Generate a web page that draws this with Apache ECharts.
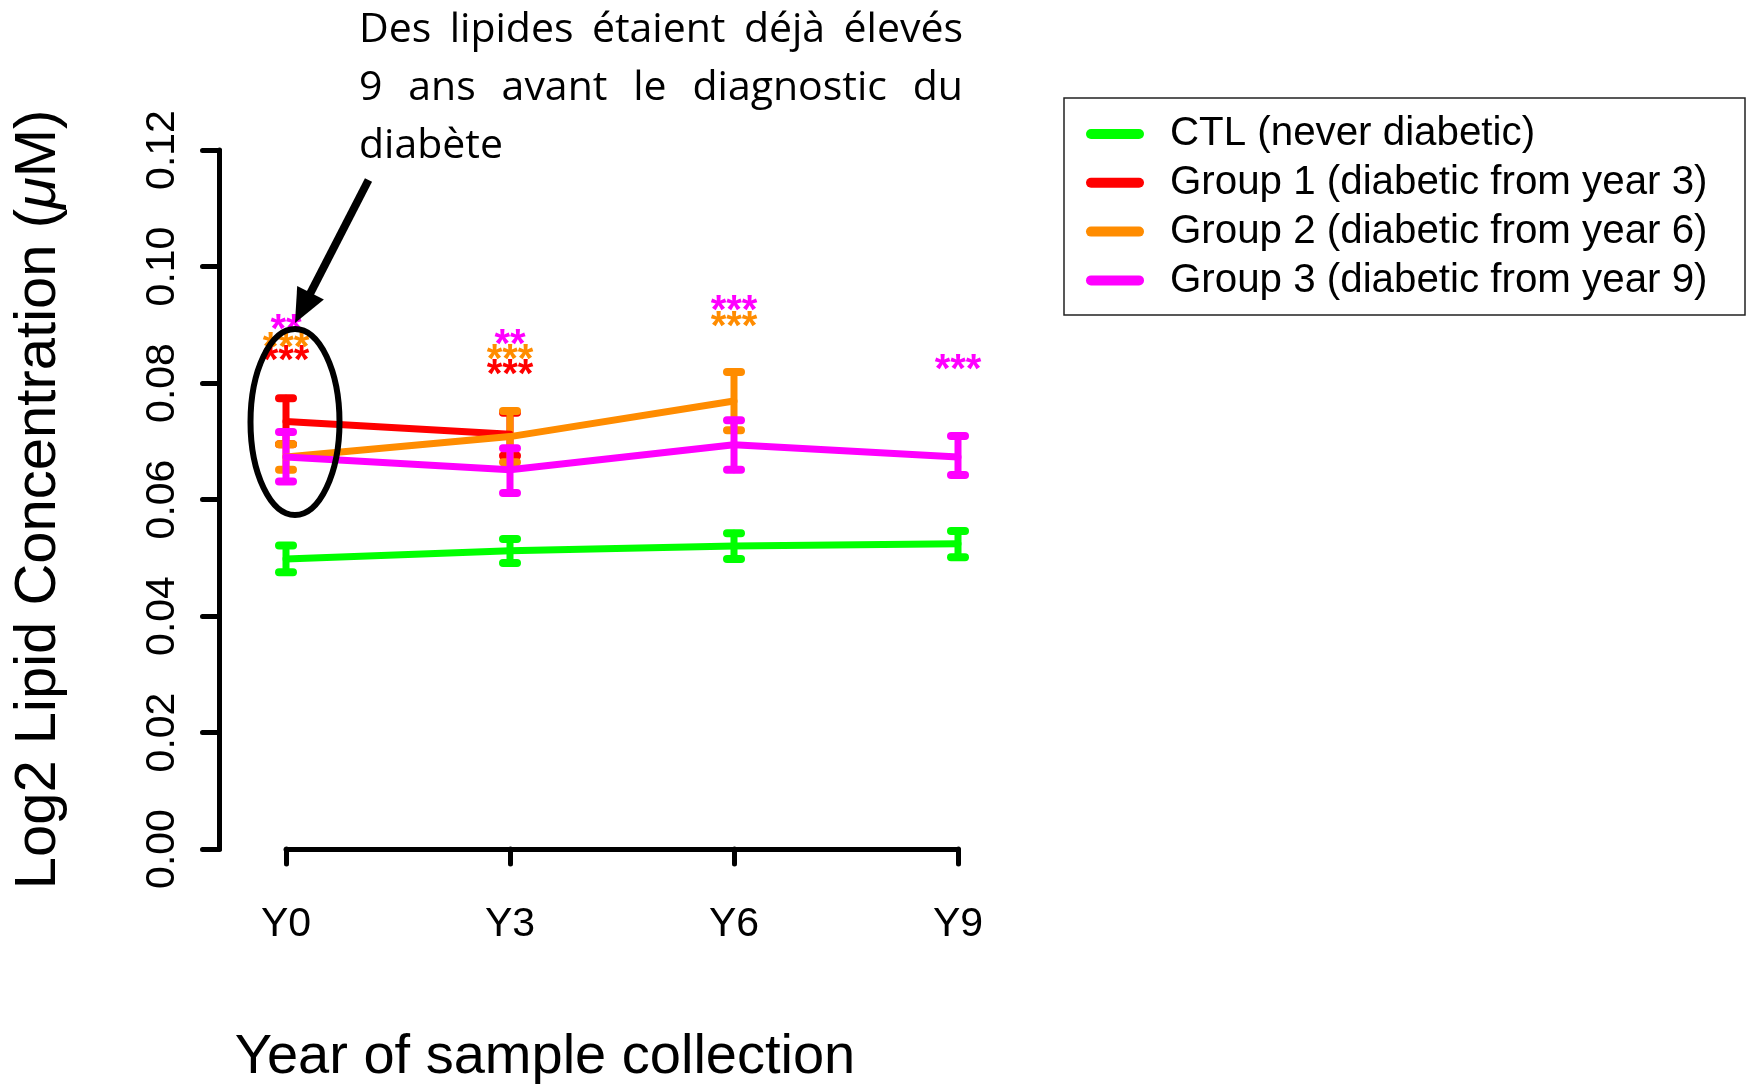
<!DOCTYPE html>
<html><head><meta charset="utf-8">
<script src="https://cdn.jsdelivr.net/npm/echarts@6/dist/echarts.min.js"></script>
<style>html,body{margin:0;padding:0;background:#fff}#c{width:1747px;height:1084px}</style>
</head><body><div id="c"></div>
<script>
// ---------- data ----------
const years = ['Y0', 'Y3', 'Y6', 'Y9'];
const names = ['CTL (never diabetic)', 'Group 1 (diabetic from year 3)', 'Group 2 (diabetic from year 6)', 'Group 3 (diabetic from year 9)'];
const colors = ['#00ff00', '#ff0000', '#ff8c00', '#ff00ff'];

const ctlMean = [0.0498, 0.0512, 0.0520, 0.0524];
const ctlLow  = [0.0475, 0.0491, 0.0498, 0.0501];
const ctlHigh = [0.0521, 0.0532, 0.0542, 0.0546];

const g1Mean = [0.0734, 0.0712, null, null];
const g1Low  = [0.0695, 0.0675, null, null];
const g1High = [0.0774, 0.0749, null, null];

const g2Mean = [0.0673, 0.0708, 0.0769, null];
const g2Low  = [0.0651, 0.0664, 0.0719, null];
const g2High = [0.0695, 0.0752, 0.0819, null];

const g3Mean = [0.0673, 0.0651, 0.0694, 0.0673];
const g3Low  = [0.0631, 0.0611, 0.0651, 0.0642];
const g3High = [0.0716, 0.0688, 0.0736, 0.0709];

// significance marks: [year index, position value], with matching texts
const g1StarPos = [[0, 0.0851], [1, 0.0827]];
const g1StarText = ['***', '***'];
const g2StarPos = [[0, 0.0874], [1, 0.0853], [2, 0.0910]];
const g2StarText = ['***', '***', '***'];
const g3StarPos = [[0, 0.0904], [1, 0.0879], [2, 0.0937], [3, 0.0836]];
const g3StarText = ['**', '**', '***', '***'];

const yMin = 0, yMax = 0.12, yStep = 0.02;
const xTitle = 'Year of sample collection';
const yTitle = 'Log2 Lipid Concentration ({i|μ}M)';
const noteLines = [
  ['Des', 'lipides', 'étaient', 'déjà', 'élevés'],
  ['9', 'ans', 'avant', 'le', 'diagnostic', 'du'],
  ['diabète']
];

// ---------- chart ----------
const FONT = '"Liberation Sans", Arial, Helvetica, sans-serif';
const chart = echarts.init(document.getElementById('c'), null, {renderer: 'canvas'});

function lineSeries(name, color, mean) {
  return {
    type: 'line', name, color, data: mean, symbol: 'none', connectNulls: false,
    lineStyle: {width: 7, color, cap: 'round', join: 'round'},
    animation: false, z: 2
  };
}
function errSeries(name, color, low, high) {
  const data = [];
  low.forEach((l, i) => { if (l != null) data.push([i, l, high[i]]); });
  return {
    type: 'custom', name, color, data, animation: false, z: 2,
    renderItem(params, api) {
      const lo = api.coord([api.value(0), api.value(1)]);
      const hi = api.coord([api.value(0), api.value(2)]);
      const hw = 7;
      const vStyle = {stroke: color, lineWidth: 7, lineCap: 'round', fill: null};
      const cStyle = {stroke: color, lineWidth: 8, lineCap: 'round', fill: null};
      return {type: 'group', children: [
        {type: 'line', shape: {x1: lo[0], y1: lo[1], x2: hi[0], y2: hi[1]}, style: vStyle},
        {type: 'line', shape: {x1: lo[0] - hw, y1: lo[1], x2: lo[0] + hw, y2: lo[1]}, style: cStyle},
        {type: 'line', shape: {x1: hi[0] - hw, y1: hi[1], x2: hi[0] + hw, y2: hi[1]}, style: cStyle}
      ]};
    }
  };
}
function starSeries(color, pos, texts) {
  return {
    type: 'custom', data: pos, animation: false, z: 3, silent: true,
    renderItem(params, api) {
      const p = api.coord([api.value(0), api.value(1)]);
      return {type: 'text', x: p[0], y: p[1] + 9,
        style: {text: texts[params.dataIndex], fill: color, fontSize: 40, fontWeight: 'bold',
          fontFamily: FONT, align: 'center', verticalAlign: 'middle'}};
    }
  };
}

const option = {
  backgroundColor: '#fff',
  animation: false,
  grid: {left: 286, top: 150, width: 672, height: 699, containLabel: false, outerBoundsMode: 'none'},
  xAxis: {
    type: 'category', data: years, boundaryGap: false, offset: 27,
    axisLine: {show: true, lineStyle: {color: '#000', width: 5, cap: 'round'}},
    axisTick: {show: true, length: 15, lineStyle: {color: '#000', width: 5, cap: 'round'}},
    axisLabel: {margin: 28, fontSize: 41, color: '#000', fontFamily: FONT},
    splitLine: {show: false},
    name: xTitle, nameLocation: 'middle', nameGap: 154,
    nameTextStyle: {fontSize: 56, color: '#000', fontFamily: FONT, padding: [0, 154, 0, 0]}
  },
  yAxis: {
    type: 'value', min: yMin, max: yMax, interval: yStep, offset: 66.5,
    axisLine: {show: true, lineStyle: {color: '#000', width: 5, cap: 'round'}},
    axisTick: {show: true, length: 17, lineStyle: {color: '#000', width: 5, cap: 'round'}},
    axisLabel: {rotate: 90, margin: 36, fontSize: 41, color: '#000', fontFamily: FONT,
      formatter: v => v.toFixed(2)},
    splitLine: {show: false},
    name: yTitle, nameLocation: 'middle', nameGap: 152, nameRotate: 90,
    nameTextStyle: {fontSize: 58, color: '#000', fontFamily: FONT,
      rich: {i: {fontSize: 58, fontStyle: 'italic', color: '#000', fontFamily: FONT}}}
  },
  legend: {
    orient: 'vertical', left: 1086, top: 114, padding: 0, selectedMode: false,
    itemWidth: 58, itemHeight: 10, itemGap: 8.8,
    data: names.map(n => ({name: n, icon: 'path://M5,0H53A5,5,0,0,1,53,10H5A5,5,0,0,1,5,0Z'})),
    textStyle: {fontSize: 40.3, lineHeight: 40, color: '#000', fontFamily: FONT, padding: [0, 0, 0, 21]}
  },
  series: [
    lineSeries(names[0], colors[0], ctlMean), errSeries(names[0], colors[0], ctlLow, ctlHigh),
    lineSeries(names[1], colors[1], g1Mean), errSeries(names[1], colors[1], g1Low, g1High),
    lineSeries(names[2], colors[2], g2Mean), errSeries(names[2], colors[2], g2Low, g2High),
    lineSeries(names[3], colors[3], g3Mean), errSeries(names[3], colors[3], g3Low, g3High),
    starSeries(colors[1], g1StarPos, g1StarText),
    starSeries(colors[2], g2StarPos, g2StarText),
    starSeries(colors[3], g3StarPos, g3StarText)
  ]
};
chart.setOption(option);

// ---------- annotations (note text, arrow, ellipse, legend frame) ----------
const NOTE_FONT_SIZE = 41, NOTE_FAMILY = '"Open Sans", "Noto Sans", sans-serif';
const ctx = document.createElement('canvas').getContext('2d');
ctx.font = NOTE_FONT_SIZE + 'px ' + NOTE_FAMILY;
const noteLeft = 359, noteRight = 963, baselines = [44, 102, 160];
const graphics = [];
noteLines.forEach((words, li) => {
  const widths = words.map(w => ctx.measureText(w).width);
  const total = widths.reduce((a, b) => a + b, 0);
  const justify = li < noteLines.length - 1 && words.length > 1;
  const gap = justify ? (noteRight - noteLeft - total) / (words.length - 1) : ctx.measureText(' ').width;
  let x = noteLeft;
  words.forEach((w, i) => {
    graphics.push({type: 'text', x, y: baselines[li] - 14, z: 10,
      style: {text: w, fontSize: NOTE_FONT_SIZE, fontFamily: NOTE_FAMILY, fill: '#000',
        align: 'left', verticalAlign: 'middle'}});
    x += widths[i] + gap;
  });
});
// arrow
const tail = [368.5, 180], tip = [295, 323];
const dx = tip[0] - tail[0], dy = tip[1] - tail[1], len = Math.hypot(dx, dy);
const ux = dx / len, uy = dy / len, nx = -uy, ny = ux;
const headL = 34, headW = 15;
const bx = tip[0] - ux * headL, by = tip[1] - uy * headL;
graphics.push({type: 'polyline', z: 10, shape: {points: [tail, [bx + ux * 4, by + uy * 4]]},
  style: {stroke: '#000', lineWidth: 8, fill: null}});
graphics.push({type: 'polygon', z: 10, shape: {points: [tip, [bx + nx * headW, by + ny * headW], [bx - nx * headW, by - ny * headW]]},
  style: {fill: '#000'}});
// ellipse
graphics.push({type: 'ellipse', z: 10, shape: {cx: 295, cy: 422, rx: 44.5, ry: 93},
  style: {stroke: '#000', lineWidth: 6, fill: null}});
// legend frame
graphics.push({type: 'rect', z: 1, shape: {x: 1064, y: 98, width: 681, height: 217},
  style: {stroke: '#222', lineWidth: 1.5, fill: null}});
chart.setOption({graphic: graphics});
</script>
</body></html>
